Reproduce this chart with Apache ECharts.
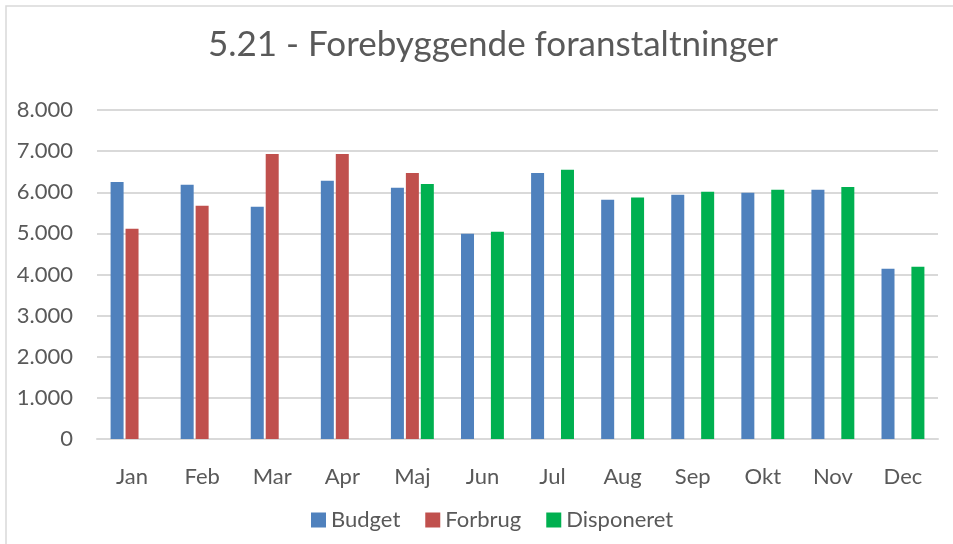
<!DOCTYPE html>
<html>
<head>
<meta charset="utf-8">
<script src="https://cdn.jsdelivr.net/npm/echarts@6/dist/echarts.min.js"></script>
<style>
html,body{margin:0;padding:0;background:#fff;}
#chart{width:953px;height:544px;}
</style>
</head>
<body>
<div id="chart"></div>
<script>
const categories = ['Jan','Feb','Mar','Apr','Maj','Jun','Jul','Aug','Sep','Okt','Nov','Dec'];
const budget = [6250, 6180, 5650, 6280, 6110, 4990, 6470, 5820, 5940, 5990, 6060, 4140];
const forbrug = [5110, 5670, 6930, 6930, 6470, null, null, null, null, null, null, null];
const disponeret = [null, null, null, null, 6200, 5040, 6550, 5870, 6010, 6060, 6130, 4190];
const yTicks = [0, 1000, 2000, 3000, 4000, 5000, 6000, 7000, 8000];
const titleText = '5.21 - Forebyggende foranstaltninger';

const fontFam = 'Lato, "Open Sans", sans-serif';
const textColor = '#595959';
const chart = echarts.init(document.getElementById('chart'));
function fmt(v){ return String(v).replace(/\B(?=(\d{3})+(?!\d))/g, '.'); }
const barW = 13;
chart.setOption({
  animation: false,
  backgroundColor: '#fff',
  title: {
    text: titleText,
    left: 203,
    top: 22,
    textStyle: { fontFamily: fontFam, fontSize: 35, fontWeight: 'normal', color: textColor }
  },
  graphic: [{
    type: 'rect',
    shape: { x: 6, y: 6, width: 1000, height: 600 },
    style: { fill: 'none', stroke: '#d9d9d9', lineWidth: 1.5 }
  }],
  legend: {
    bottom: 8,
    left: 306,
    itemWidth: 15,
    itemHeight: 15,
    itemGap: 25,
    icon: 'rect',
    textStyle: { fontFamily: fontFam, fontSize: 22, color: textColor },
    data: ['Budget', 'Forbrug', 'Disponeret']
  },
  grid: { left: 97, right: 15, top: 110, bottom: 105, containLabel: false },
  xAxis: {
    type: 'category',
    data: categories,
    axisTick: { show: false },
    axisLine: { lineStyle: { color: '#d9d9d9', width: 2 } },
    axisLabel: { fontFamily: fontFam, fontSize: 22, color: textColor, margin: 27 }
  },
  yAxis: {
    type: 'value',
    min: yTicks[0],
    max: yTicks[yTicks.length - 1],
    interval: 1000,
    axisLine: { show: false },
    axisTick: { show: false },
    splitLine: { lineStyle: { color: '#d9d9d9', width: 2 } },
    axisLabel: { fontFamily: fontFam, fontSize: 22, color: textColor, margin: 24, formatter: fmt }
  },
  series: [
    { name: 'Budget', type: 'bar', data: budget, barWidth: barW, barGap: '15%', itemStyle: { color: '#4f81bd' } },
    { name: 'Forbrug', type: 'bar', data: forbrug, barWidth: barW, barGap: '15%', itemStyle: { color: '#c0504d' } },
    { name: 'Disponeret', type: 'bar', data: disponeret, barWidth: barW, barGap: '15%', itemStyle: { color: '#00b050' } }
  ]
});
</script>
</body>
</html>
